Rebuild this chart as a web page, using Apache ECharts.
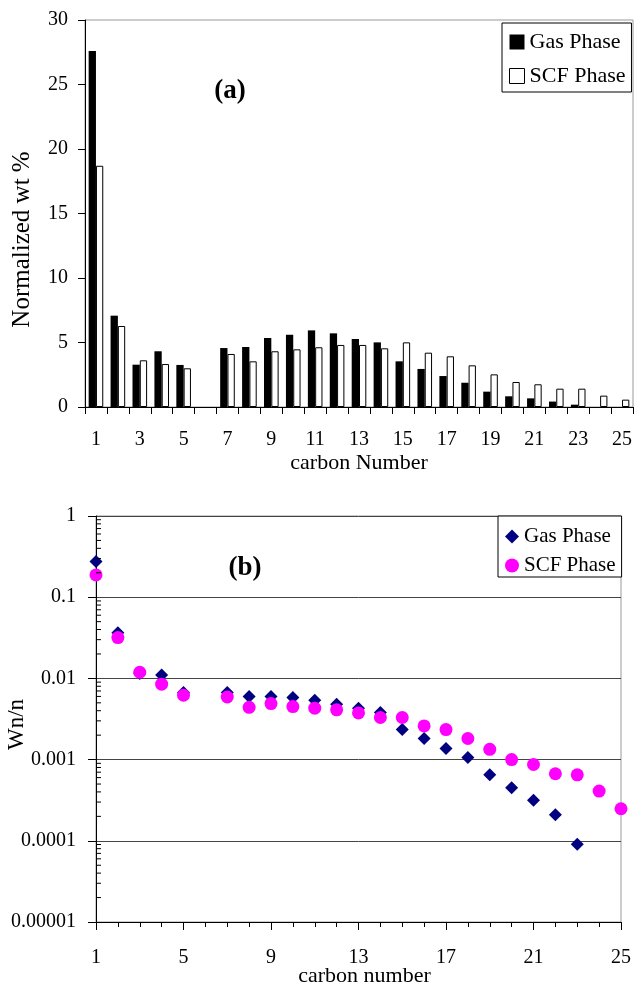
<!DOCTYPE html>
<html>
<head>
<meta charset="utf-8">
<script src="https://cdn.jsdelivr.net/npm/echarts@6/dist/echarts.min.js"></script>
<style>
html,body{margin:0;padding:0;background:#fff;}
#chart{width:634px;height:986px;}
</style>
</head>
<body>
<div id="chart"></div>
<script>
// ---- data ----
const carbonNumbers = [1,2,3,4,5,6,7,8,9,10,11,12,13,14,15,16,17,18,19,20,21,22,23,24,25];
// (a) normalized wt %
const gasWt = [27.6,7.08,3.28,4.32,3.26,null,4.57,4.65,5.35,5.6,5.94,5.71,5.27,5.01,3.54,2.95,2.4,1.88,1.19,0.83,0.67,0.42,0.18,null,null];
const scfWt = [18.7,6.28,3.62,3.33,3.0,null,4.11,3.54,4.32,4.47,4.63,4.81,4.81,4.55,5.01,4.21,3.93,3.23,2.53,1.94,1.76,1.42,1.42,0.88,0.57];
// (b) Wn/n
const gasWn = [0.275,0.0366,0.0115,0.011,0.0067,null,0.0067,0.0060,0.0060,0.0058,0.0054,0.0048,0.0043,0.0038,0.00234,0.00182,0.00137,0.00106,0.00065,0.00045,0.000315,0.00021,0.000091,null,null];
const scfWn = [0.188,0.0318,0.0119,0.0085,0.0062,null,0.0059,0.0044,0.0049,0.0045,0.0043,0.0041,0.00376,0.0033,0.0033,0.0026,0.00234,0.00182,0.00134,0.001,0.00087,0.00067,0.00065,0.00041,0.000248];
const logTickLabels = ['0.00001','0.0001','0.001','0.01','0.1','1'];
const minorMultipliers = [2,3,4,5,6,7,8,9];
const seriesNames = ['Gas Phase','SCF Phase'];

const FONT = 'Liberation Serif';
const pairs = (arr) => carbonNumbers.map((n,i)=>[n,arr[i]]).filter(p=>p[1]!=null);
const minorTickVals = [];
for (let e=-5; e<0; e++) minorMultipliers.forEach(m=>minorTickVals.push([1, m*Math.pow(10,e)]));

const chart = echarts.init(document.getElementById('chart'), null, {renderer:'canvas'});
const option = {
  animation:false,
  textStyle:{fontFamily:FONT,color:'#000'},
  grid:[
    {left:85,right:1,top:20,bottom:579,show:true,borderColor:'#999',borderWidth:1,backgroundColor:'transparent',outerBoundsMode:'none',containLabel:false},
    {left:96,right:13,top:516,bottom:64,show:true,borderColor:'#999',borderWidth:1,backgroundColor:'transparent',outerBoundsMode:'none',containLabel:false}
  ],
  xAxis:[
    {gridIndex:0,type:'category',data:carbonNumbers,boundaryGap:true,
     name:'carbon Number',nameLocation:'middle',nameGap:45,nameMoveOverlap:false,
     nameTextStyle:{fontFamily:FONT,fontSize:22,color:'#000'},
     axisLine:{lineStyle:{color:'#000',width:1}},
     axisTick:{show:true,length:7,interval:0,alignWithLabel:false,lineStyle:{color:'#000'}},
     axisLabel:{interval:1,margin:23,fontFamily:FONT,fontSize:20,color:'#000'},
     splitLine:{show:false}},
    {gridIndex:1,type:'value',min:1,max:25,interval:4,
     name:'carbon number',nameLocation:'middle',nameGap:43,nameMoveOverlap:false,
     nameTextStyle:{fontFamily:FONT,fontSize:22,color:'#000',padding:[0,0,0,12]},
     axisLine:{lineStyle:{color:'#000',width:1}},
     axisTick:{show:true,length:8,lineStyle:{color:'#000'}},
     minorTick:{show:true,splitNumber:4,length:5,lineStyle:{color:'#000'}},
     axisLabel:{margin:26,fontFamily:FONT,fontSize:20,color:'#000'},
     splitLine:{show:false}}
  ],
  yAxis:[
    {gridIndex:0,type:'value',min:0,max:30,interval:5,
     name:'Normalized wt %',nameLocation:'middle',nameGap:50,nameMoveOverlap:false,
     nameTextStyle:{fontFamily:FONT,fontSize:25,color:'#000',padding:[0,52,0,0]},
     axisLine:{show:true,lineStyle:{color:'#000',width:1}},
     axisTick:{show:true,length:7,lineStyle:{color:'#000'}},
     axisLabel:{margin:17,fontFamily:FONT,fontSize:20,color:'#000'},
     splitLine:{show:false}},
    {gridIndex:1,type:'log',logBase:10,min:0.00001,max:1,
     name:'Wn/n',nameLocation:'middle',nameGap:68,nameMoveOverlap:false,
     nameTextStyle:{fontFamily:FONT,fontSize:23,color:'#000',padding:[0,11,0,0]},
     axisLine:{show:true,lineStyle:{color:'#000',width:1}},
     axisTick:{show:true,length:8,lineStyle:{color:'#000'}},
     axisLabel:{margin:20,fontFamily:FONT,fontSize:20,color:'#000',
       formatter:(v)=>logTickLabels[Math.round(Math.log10(v))+5]},
     splitLine:{show:true,lineStyle:{color:'#444',width:1}}}
  ],
  legend:[
    {left:502,top:23,orient:'vertical',padding:[8,6,5,7],itemGap:12,itemWidth:15,itemHeight:15,
     backgroundColor:'#fff',borderColor:'#000',borderWidth:1,borderRadius:0,
     textStyle:{fontFamily:FONT,fontSize:22,color:'#000'},
     selectedMode:false,
     data:[
      {name:seriesNames[0],icon:'rect',itemStyle:{color:'#000',borderWidth:0}},
      {name:seriesNames[1],icon:'rect',itemStyle:{color:'#fff',borderColor:'#000',borderWidth:1}}
     ]},
    {left:498,top:516,orient:'vertical',padding:[10,6,1,7],itemGap:8,itemWidth:14,itemHeight:14,
     backgroundColor:'#fff',borderColor:'#000',borderWidth:1,borderRadius:0,
     textStyle:{fontFamily:FONT,fontSize:21,color:'#000'},
     selectedMode:false,
     data:[
      {name:seriesNames[0],icon:'diamond',itemStyle:{color:'#000080',borderWidth:0,opacity:1}},
      {name:seriesNames[1],icon:'circle',itemStyle:{color:'#ff00ff',borderWidth:0,opacity:1}}
     ]}
  ],
  graphic:[
    {type:'text',x:230,y:91,style:{text:'(a)',font:'bold 27px "Liberation Serif"',fill:'#000',textAlign:'center',textVerticalAlign:'middle'}},
    {type:'text',x:245,y:568,style:{text:'(b)',font:'bold 27px "Liberation Serif"',fill:'#000',textAlign:'center',textVerticalAlign:'middle'}}
  ],
  series:[
    {name:seriesNames[0],type:'bar',xAxisIndex:0,yAxisIndex:0,data:gasWt,barWidth:7.3,barGap:'0%',
     itemStyle:{color:'#000'}},
    {name:seriesNames[1],type:'bar',xAxisIndex:0,yAxisIndex:0,data:scfWt,barWidth:7.3,barGap:'0%',
     itemStyle:{color:'#fff',borderColor:'#000',borderWidth:1}},
    {name:seriesNames[0],type:'scatter',xAxisIndex:1,yAxisIndex:1,data:pairs(gasWn),symbol:'diamond',symbolSize:13,
     itemStyle:{color:'#000080',opacity:1},z:3},
    {name:seriesNames[1],type:'scatter',xAxisIndex:1,yAxisIndex:1,data:pairs(scfWn),symbol:'circle',symbolSize:13,
     itemStyle:{color:'#ff00ff',opacity:1},z:4},
    {name:'minorLogTicks',type:'custom',xAxisIndex:1,yAxisIndex:1,data:minorTickVals,silent:true,clip:false,
     encode:{x:0,y:1},z:5,
     renderItem:(params,api)=>{
       const p = api.coord([api.value(0),api.value(1)]);
       return {type:'line',shape:{x1:p[0],y1:p[1],x2:p[0]+5,y2:p[1]},style:{stroke:'#000',lineWidth:1}};
     }}
  ]
};
chart.setOption(option);
</script>
</body>
</html>
